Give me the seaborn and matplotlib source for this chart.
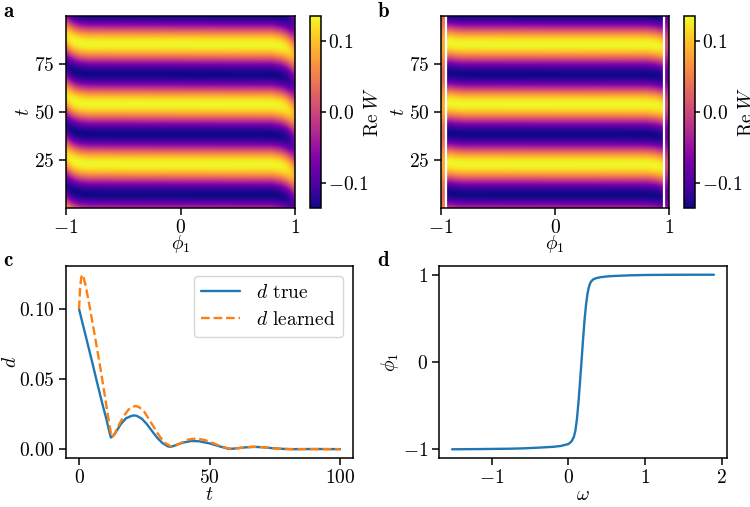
import numpy as np
import matplotlib
matplotlib.use("Agg")
import matplotlib.pyplot as plt
import seaborn as sns

# ---------------- data ----------------
# panel c: distance d(t)
t_true = [0, 1, 3, 5, 7, 9, 10.5, 11.5, 12.2, 13, 14, 16, 18, 20, 21, 22, 24, 26, 28, 30, 32,
          34, 35, 36, 38, 40, 43, 46, 50, 54, 57, 58, 60, 64, 67, 70, 74, 78, 82, 90, 100]
d_true = [0.100, 0.0925, 0.0775, 0.0625, 0.047, 0.032, 0.0215, 0.0135, 0.0085, 0.0095, 0.012,
          0.018, 0.0222, 0.0238, 0.0242, 0.024, 0.022, 0.018, 0.013, 0.0082, 0.0045, 0.0022,
          0.0018, 0.0023, 0.0037, 0.0049, 0.0060, 0.0058, 0.0043, 0.0021, 0.0006, 0.0004,
          0.0007, 0.0015, 0.0018, 0.0016, 0.0009, 0.0004, 0.0002, 0.0003, 0.0002]
t_learn = [0, 0.4, 0.8, 1.2, 1.6, 2.5, 4, 6, 8, 10, 11.5, 12.5, 13.5, 15, 17, 19, 21.5, 23, 25,
           27, 29, 31, 33, 35.5, 37, 39, 42, 45, 48, 51, 54, 57, 58.5, 61, 64, 67, 70, 74, 78,
           82, 90, 100]
d_learn = [0.100, 0.115, 0.122, 0.1245, 0.1235, 0.117, 0.1025, 0.0815, 0.060, 0.037, 0.019,
           0.0088, 0.0105, 0.0165, 0.0235, 0.0285, 0.031, 0.0302, 0.0268, 0.021, 0.0148, 0.009,
           0.0045, 0.0019, 0.0027, 0.0046, 0.0071, 0.0078, 0.0068, 0.0048, 0.0025, 0.0008,
           0.0004, 0.0009, 0.0016, 0.0019, 0.0016, 0.0009, 0.0003, 0.0001, 0.0002, 0.0001]

# panel d: phi_1(omega)
omega_vals = [-1.52, -1.2, -1.0, -0.8, -0.6, -0.4, -0.2, -0.1, 0.0, 0.04, 0.07, 0.09, 0.11,
              0.13, 0.15, 0.17, 0.19, 0.21, 0.23, 0.25, 0.27, 0.29, 0.32, 0.36, 0.42, 0.5,
              0.6, 0.8, 1.0, 1.3, 1.6, 1.9]
phi1_vals = [-1.0, -0.998, -0.996, -0.994, -0.99, -0.982, -0.972, -0.962, -0.94, -0.91, -0.86,
             -0.79, -0.66, -0.47, -0.24, 0.0, 0.25, 0.48, 0.66, 0.79, 0.87, 0.915, 0.945,
             0.96, 0.972, 0.98, 0.986, 0.993, 0.997, 0.999, 1.0, 1.0]

# panels a, b: Re W bands (times of bright / dark band centres, amplitude)
t_grid = np.arange(0, 101)
phi_grid = np.linspace(-1, 1, 241)
band_peak_t = 22.4          # first bright band centre
band_period = 31.6          # spacing of bright bands
band_amp = 0.135
cbar_lim = 0.136
# band bending near the edges (shift of band centre in t) and amplitude
edge_phi = [-1.0, -0.97, -0.93, -0.88, -0.8, 0.8, 0.88, 0.93, 0.97, 1.0]
shift_a = [4.5, 3.0, 1.6, 0.7, 0.2, 0.0, -0.8, -2.0, -3.6, -5.0]
ampf_a = [0.85, 0.95, 1.0, 1.0, 1.0, 1.0, 0.98, 0.92, 0.8, 0.6]
shift_b = [0.0, 0.0, 0.8, 0.4, 0.1, 0.0, -0.4, -1.0, -1.6, -2.0]
ampf_b = [1.0, 1.0, 1.0, 1.0, 1.0, 1.0, 1.0, 0.97, 0.92, 0.9]
b_lines = [-0.955, 0.955]
b_left_level, b_left_osc = 0.06, 0.025
b_right_level, b_right_osc = -0.04, 0.04


def band_field(shift, ampf):
    P, T = np.meshgrid(phi_grid, t_grid)
    s = np.interp(P, edge_phi, shift)
    a = np.interp(P, edge_phi, ampf)
    return band_amp * a * np.cos(2 * np.pi * (T - band_peak_t - s) / band_period)


W_a = band_field(shift_a, ampf_a)
W_b = band_field(shift_b, ampf_b)
Pg, Tg = np.meshgrid(phi_grid, t_grid)
osc = np.cos(2 * np.pi * (Tg - band_peak_t) / band_period)
W_b = np.where(Pg < b_lines[0], b_left_level + b_left_osc * osc, W_b)
W_b = np.where(Pg > b_lines[1], b_right_level + b_right_osc * osc, W_b)

# ---------------- style ----------------
sns.set_theme(style="ticks")
plt.rcParams.update({
    "font.family": "serif",
    "font.serif": ["cmr10"],
    "mathtext.fontset": "cm",
    "axes.formatter.use_mathtext": True,
    "font.size": 14,
    "axes.labelsize": 14,
    "xtick.labelsize": 14,
    "ytick.labelsize": 14,
    "legend.fontsize": 14,
    "axes.linewidth": 1.1,
    "xtick.major.size": 5,
    "ytick.major.size": 5,
    "xtick.major.width": 1.1,
    "ytick.major.width": 1.1,
    "xtick.major.pad": 3,
    "ytick.major.pad": 3,
    "axes.edgecolor": "black",
    "xtick.color": "black",
    "ytick.color": "black",
    "axes.labelcolor": "black",
    "text.color": "black",
    "axes.unicode_minus": True,
})

W, H = 750, 507
fig = plt.figure(figsize=(W / 100, H / 100), dpi=100)


def box(l, r, t, b):
    return [l / W, 1 - b / H, (r - l) / W, (b - t) / H]


ax_a = fig.add_axes(box(66, 295, 16, 208))
cax_a = fig.add_axes(box(310, 320.5, 16, 208))
ax_b = fig.add_axes(box(441, 669, 16, 208))
cax_b = fig.add_axes(box(684, 694.5, 16, 208))
ax_c = fig.add_axes(box(66, 353, 266, 458))
ax_d = fig.add_axes(box(439, 727, 266, 458))

cmap = sns.color_palette("plasma", as_cmap=True)
for ax, cax, Wf in [(ax_a, cax_a, W_a), (ax_b, cax_b, W_b)]:
    im = ax.imshow(Wf, origin="lower", aspect="auto", cmap=cmap,
                   vmin=-cbar_lim, vmax=cbar_lim,
                   extent=[-1, 1, t_grid[0] - 0.5, t_grid[-1] + 0.5],
                   interpolation="bilinear")
    ax.set_xticks([-1, 0, 1])
    ax.set_yticks([25, 50, 75])
    ax.set_xlabel(r"$\phi_1$", labelpad=-3)
    ax.set_ylabel(r"$t$", labelpad=1)
    cb = fig.colorbar(im, cax=cax, ticks=[-0.1, 0.0, 0.1])
    cb.ax.yaxis.set_major_formatter(matplotlib.ticker.FormatStrFormatter(r"$%.1f$"))
    cb.ax.tick_params(length=3.5, pad=2)
    cb.outline.set_linewidth(1.1)
    cb.set_label(r"$\mathrm{Re}\;W$", labelpad=-3)
for xv in b_lines:
    ax_b.axvline(xv, color="white", lw=1.6)

# panel c
blue, orange = sns.color_palette("tab10")[0], sns.color_palette("tab10")[1]
sns.lineplot(x=t_true, y=d_true, ax=ax_c, color=blue, lw=1.7, label=r"$d$ true",
             estimator=None, sort=False)
sns.lineplot(x=t_learn, y=d_learn, ax=ax_c, color=orange, lw=1.7, linestyle="--",
             label=r"$d$ learned", estimator=None, sort=False)
ax_c.set_xticks([0, 50, 100])
ax_c.set_yticks([0.0, 0.05, 0.10])
ax_c.yaxis.set_major_formatter(matplotlib.ticker.FormatStrFormatter(r"$%.2f$"))
ax_c.set_xlabel(r"$t$", labelpad=-1)
ax_c.set_ylabel(r"$d$", labelpad=-1)
ax_c.legend(loc="upper right", frameon=True, fancybox=True, edgecolor="#cccccc",
            framealpha=0.8, handlelength=2.0)

# panel d
sns.lineplot(x=omega_vals, y=phi1_vals, ax=ax_d, color=blue, lw=1.7,
             estimator=None, sort=False)
ax_d.set_xticks([-1, 0, 1, 2])
ax_d.set_yticks([-1, 0, 1])
ax_d.set_xlabel(r"$\omega$", labelpad=-1)
ax_d.set_ylabel(r"$\phi_1$", labelpad=1)

for ax in [ax_a, ax_b, ax_c, ax_d]:
    for s in ax.spines.values():
        s.set_visible(True)
        s.set_linewidth(1.1)

for lab, x, y in [("a", 3, 17), ("b", 378, 17), ("c", 3, 266), ("d", 377, 266)]:
    fig.text(x / W, 1 - y / H, lab, fontname="cmb10", fontsize=15, va="baseline")

fig.savefig("out.png", dpi=100)
